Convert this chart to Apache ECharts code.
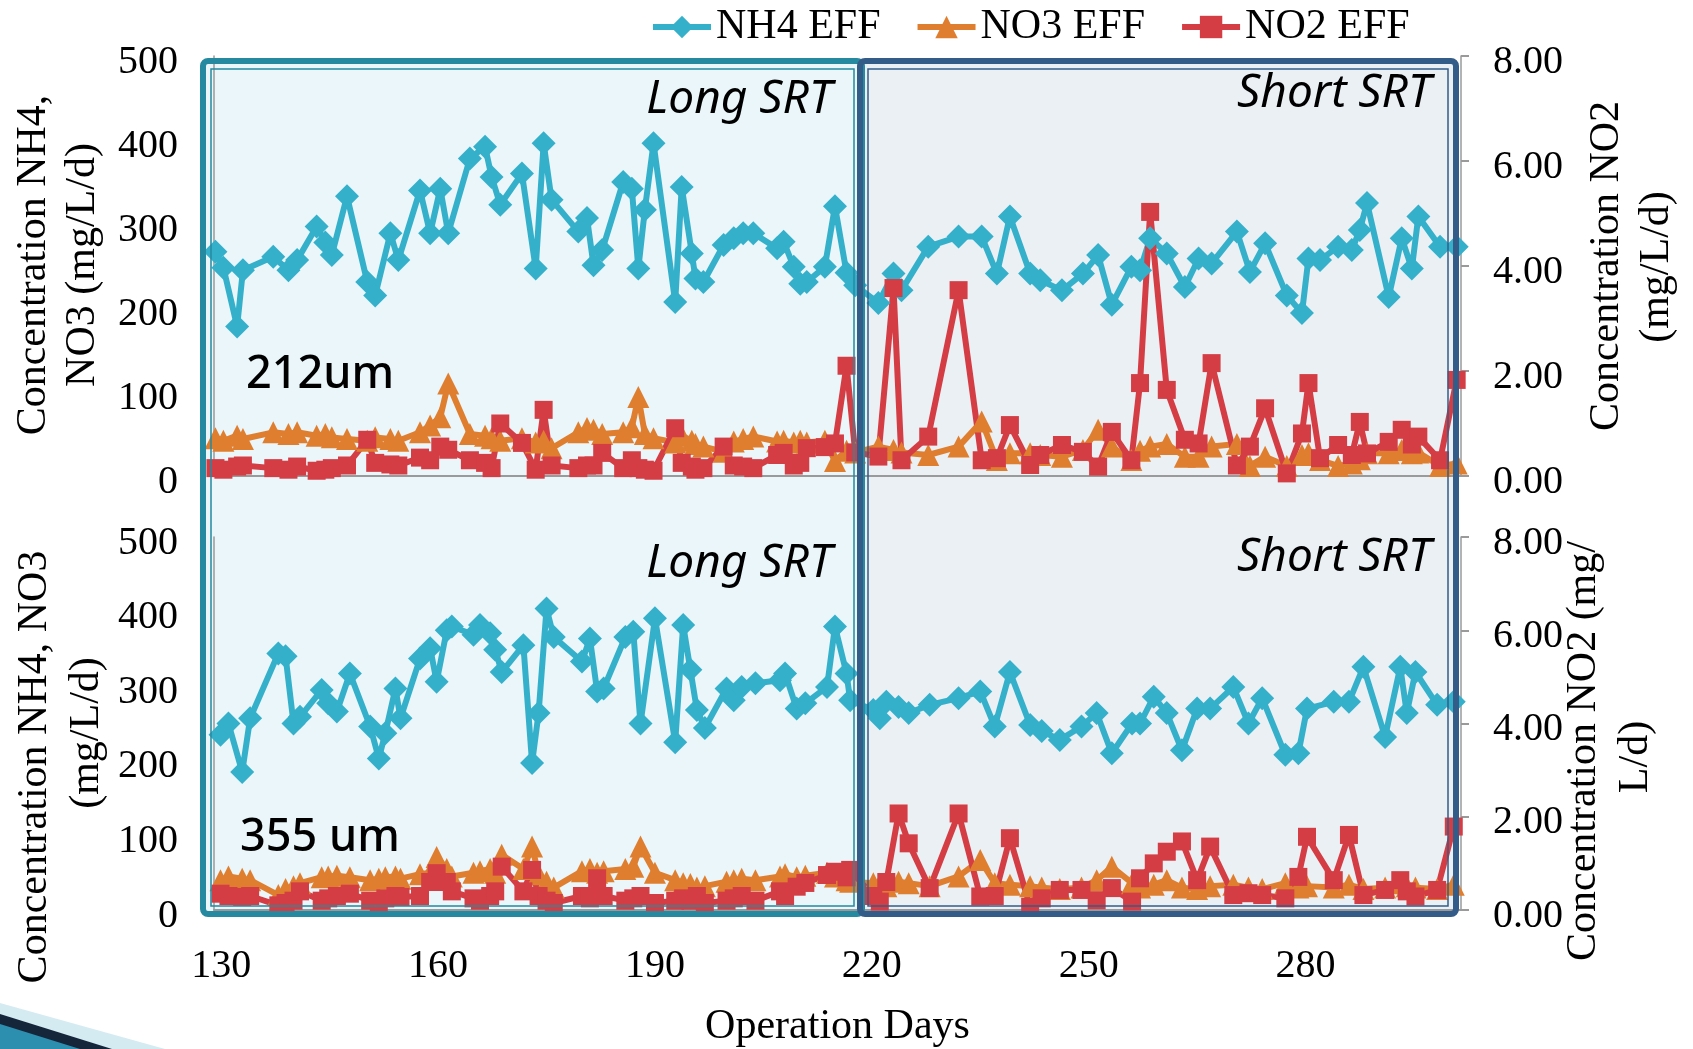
<!DOCTYPE html>
<html>
<head>
<meta charset="utf-8">
<title>NH4 / NO3 / NO2 effluent</title>
<script src="https://cdn.jsdelivr.net/npm/echarts@6/dist/echarts.min.js"></script>
<style>
  html, body { margin: 0; padding: 0; background: #fff; }
  #main { width: 1693px; height: 1049px; }
</style>
</head>
<body>
<div id="main"></div>
<script>
// operation days, 212um reactor (top panel)
var daysTop = [129.2,130.3,132.2,133,137.2,139.3,140.5,143.2,144.4,145.3,147.4,150.2,151.3,153.4,154.5,157.5,158.9,160.3,161.4,164.4,
  166.5,167.4,168.6,171.6,173.5,174.6,175.7,179.4,180.6,181.5,182.7,185.6,186.8,187.7,188.6,189.8,192.8,193.7,195.1,195.6,
  196.7,199.5,200.9,202.2,203.6,206.9,207.8,209.2,210.1,211,213.5,214.9,216.5,217.7,220.9,223,224.1,227.8,232,235.2,
  237.3,239.1,241.9,243.3,246.3,249.2,251.3,253.2,255.9,257.1,258.5,260.8,263.3,265.2,267,270.5,272.3,274.4,277.4,279.5,
  280.4,282,284.5,286.4,287.5,288.5,291.5,293.3,294.7,295.6,298.6,300.9];
var nh4Top = [267,248,178,245,261,245,257,297,278,263,333,231,215,289,257,340,289,342,289,378,
  392,356,323,360,247,396,329,291,307,251,269,350,342,247,317,396,207,344,265,235,
  231,275,283,289,289,271,279,249,229,231,249,321,242,227,206,241,221,273,285,285,
  241,309,241,233,221,241,263,204,249,245,283,265,225,259,253,291,243,277,215,194,
  259,257,273,269,293,325,213,283,247,309,273,273];
var no3Top = [45,42,48,44,52,50,52,48,50,46,44,42,46,44,42,52,60,70,110,50,
  48,45,42,45,40,42,33,52,57,55,50,52,58,94,50,45,40,48,42,38,
  35,29,41,44,47,41,42,40,42,40,42,18,30,28,35,31,28,25,35,65,
  19,27,27,25,23,31,55,35,19,30,35,38,23,23,35,38,12,23,12,25,
  27,19,12,15,20,27,27,31,27,28,12,15];
var no2Top = [0.15,0.12,0.18,0.2,0.15,0.12,0.18,0.1,0.12,0.15,0.2,0.69,0.25,0.22,0.2,0.35,0.3,0.56,0.5,0.3,
  0.25,0.15,1.0,0.63,0.12,1.26,0.2,0.15,0.2,0.2,0.44,0.15,0.3,0.15,0.12,0.1,0.91,0.25,0.18,0.12,
  0.15,0.56,0.2,0.18,0.15,0.4,0.44,0.2,0.25,0.53,0.55,0.62,2.1,0.45,0.37,3.58,0.3,0.75,3.54,0.3,
  0.34,0.97,0.21,0.4,0.59,0.46,0.18,0.84,0.3,1.77,5.03,1.64,0.69,0.62,2.15,0.2,0.56,1.29,0.05,0.81,
  1.77,0.34,0.59,0.4,1.03,0.43,0.65,0.88,0.6,0.75,0.3,1.83];

// operation days, 355 um reactor (bottom panel)
var daysBottom = [129.9,131,132.9,134,137.9,138.9,140,140.9,143.9,144.8,146,147.8,150.6,151.8,152.7,154.1,154.8,157.5,158.9,159.8,
  161.2,161.9,164.9,165.8,167.2,167.9,168.8,171.8,173,173.9,175,176,179.9,181,182,182.9,185.9,187,188,190,
  192.8,193.9,194.9,195.8,196.9,199.9,200.9,202,203.9,207.3,208,209.6,210.8,213.8,214.9,216.5,217,220.2,221.1,222,
  223.7,225.1,228,232,235,237,239.1,241.9,243.5,246,249,251.1,253.2,256,257.1,259,260.8,262.9,265,266.8,
  270,272.1,274,277.2,279,280.2,283.9,286,288,291,293.1,294,295.2,298.2,300.5];
var nh4Bottom = [235,250,185,257,344,340,250,259,295,277,266,317,246,203,237,297,257,337,351,306,
  375,380,369,382,371,349,319,355,197,264,404,366,333,364,293,297,366,373,250,391,
  225,382,322,268,244,297,281,299,304,308,317,270,277,299,380,317,281,268,257,279,
  272,264,275,284,293,246,319,248,240,228,246,264,210,250,250,286,264,214,270,270,
  299,250,284,208,210,270,279,279,326,232,326,264,319,275,279];
var no3Bottom = [40,45,42,40,20,28,32,36,44,45,46,44,40,42,44,45,42,48,50,71,
  55,45,50,52,55,50,74,55,85,48,38,30,52,55,50,52,55,58,85,50,
  40,36,35,30,32,38,40,42,40,45,48,44,46,50,45,40,38,36,34,32,
  38,36,32,45,67,36,34,32,30,28,30,40,58,36,30,34,40,30,28,32,
  34,30,28,36,30,32,30,34,28,30,36,32,30,28,34];
var no2Bottom = [0.35,0.3,0.28,0.3,0.1,0.15,0.2,0.4,0.2,0.25,0.3,0.35,0.2,0.15,0.25,0.3,0.28,0.3,0.6,0.79,
  0.6,0.4,0.25,0.2,0.3,0.4,0.93,0.4,0.86,0.3,0.2,0.15,0.3,0.25,0.68,0.3,0.2,0.25,0.3,0.15,
  0.2,0.25,0.2,0.3,0.15,0.2,0.25,0.3,0.2,0.4,0.3,0.5,0.58,0.75,0.82,0.7,0.86,0.3,0.18,0.6,
  2.07,1.43,0.47,2.07,0.29,0.3,1.54,0.07,0.25,0.43,0.43,0.21,0.47,0.18,0.68,1.0,1.25,1.47,0.64,1.36,
  0.32,0.36,0.32,0.25,0.71,1.57,0.64,1.61,0.32,0.43,0.64,0.4,0.29,0.43,1.79];

var dayTicks = [130, 160, 190, 220, 250, 280];
var names = ['NH4 EFF', 'NO3 EFF', 'NO2 EFF'];

var chart = echarts.init(document.getElementById('main'));

var serif = 'Liberation Serif';
var colors = { nh4: '#35b0cb', no3: '#e07e2f', no2: '#d53d45' };

function pairs(days, vals) {
  return days.map(function (d, i) { return [d, vals[i]]; });
}

function lineSeries(name, color, symbol, size, xi, yi, data) {
  return {
    name: name,
    type: 'line',
    xAxisIndex: xi,
    yAxisIndex: yi,
    symbol: symbol,
    symbolSize: size,
    data: data,
    itemStyle: { color: color },
    lineStyle: { color: color, width: 6 },
    emphasis: { disabled: true },
    animation: false
  };
}

// labels sit a few px below their tick, as in the original slide
function leftAxis(grid) {
  return {
    type: 'value', gridIndex: grid, position: 'left',
    min: 0, max: 500, interval: 100,
    axisLine: { show: true, lineStyle: { color: '#9a9a9a', width: 1.5 } },
    axisTick: { show: false },
    splitLine: { show: false },
    axisLabel: { fontFamily: serif, fontSize: 40, color: '#000', margin: 36, verticalAlign: 'top', lineHeight: 12 }
  };
}

function rightAxis(grid) {
  return {
    type: 'value', gridIndex: grid, position: 'right',
    min: 0, max: 8, interval: 2,
    axisLine: { show: true, lineStyle: { color: '#9a9a9a', width: 1.5 } },
    axisTick: { show: true, length: 8, lineStyle: { color: '#9a9a9a', width: 2 } },
    splitLine: { show: false },
    axisLabel: {
      fontFamily: serif, fontSize: 40, color: '#000', margin: 32, verticalAlign: 'top', lineHeight: 12,
      formatter: function (v) { return v.toFixed(2); }
    }
  };
}

function axisTitle(text, x, y) {
  return {
    type: 'text', x: x, y: y, rotation: Math.PI / 2, z: 20,
    style: { text: text, fontFamily: serif, fontSize: 42, fill: '#000', align: 'center', verticalAlign: 'middle' }
  };
}

function note(text, x, y, align, italic) {
  return {
    type: 'text', x: x, y: y, z: 20,
    style: {
      text: text, fontFamily: 'Noto Sans', fontSize: italic ? 46 : 45, fontStyle: italic ? 'italic' : 'normal',
      fontWeight: italic ? 'normal' : 500,
      fill: '#000', align: align, verticalAlign: 'middle'
    }
  };
}

// shaded SRT regions spanning both panels
function regionFill(x, w, fill) {
  return { type: 'rect', z: 0, shape: { x: x, y: 61, width: w, height: 853, r: 4 }, style: { fill: fill } };
}
function regionBorder(x, w, stroke) {
  return [
    { type: 'rect', z: 30, shape: { x: x, y: 61, width: w, height: 853, r: 5 },
      style: { fill: null, stroke: stroke, lineWidth: 6 } },
    { type: 'rect', z: 30, shape: { x: x + 8, y: 69, width: w - 16, height: 837 },
      style: { fill: null, stroke: stroke, lineWidth: 1.5 } }
  ];
}

var option = {
  backgroundColor: '#fff',
  animation: false,
  legend: {
    data: names,
    left: 650, top: 6, padding: 0,
    itemWidth: 58, itemHeight: 28, itemGap: 34,
    lineStyle: { width: 6 },
    textStyle: { fontFamily: serif, fontSize: 42, color: '#000' }
  },
  grid: [
    { left: 214, right: 232, top: 56, height: 420, outerBoundsMode: 'none' },
    { left: 214, right: 232, top: 537, height: 373, outerBoundsMode: 'none' }
  ],
  xAxis: [
    {
      type: 'value', gridIndex: 0, min: 129, max: 301.5,
      axisLine: { show: true, lineStyle: { color: '#9a9a9a', width: 2 } },
      axisTick: { show: false }, axisLabel: { show: false }, splitLine: { show: false }
    },
    {
      type: 'value', gridIndex: 1, min: 129, max: 301.5,
      name: 'Operation Days', nameLocation: 'middle', nameGap: 96,
      nameTextStyle: { fontFamily: serif, fontSize: 42, color: '#000' },
      axisLine: { show: true, lineStyle: { color: '#9a9a9a', width: 2 } },
      axisTick: { show: false }, splitLine: { show: false },
      axisLabel: { customValues: dayTicks, fontFamily: serif, fontSize: 40, color: '#000', margin: 36 }
    }
  ],
  yAxis: [leftAxis(0), rightAxis(0), leftAxis(1), rightAxis(1)],
  series: [
    lineSeries(names[0], colors.nh4, 'diamond', 24, 0, 0, pairs(daysTop, nh4Top)),
    lineSeries(names[1], colors.no3, 'triangle', 22, 0, 0, pairs(daysTop, no3Top)),
    lineSeries(names[2], colors.no2, 'rect', 18, 0, 1, pairs(daysTop, no2Top)),
    lineSeries(names[0], colors.nh4, 'diamond', 24, 1, 2, pairs(daysBottom, nh4Bottom)),
    lineSeries(names[1], colors.no3, 'triangle', 22, 1, 2, pairs(daysBottom, no3Bottom)),
    lineSeries(names[2], colors.no2, 'rect', 18, 1, 3, pairs(daysBottom, no2Bottom))
  ],
  graphic: [
    regionFill(203, 659, '#eaf6fa'),
    regionFill(860, 596, '#ebf0f5')
  ].concat(regionBorder(203, 659, '#2589a0'))
   .concat(regionBorder(860, 596, '#335c88'))
   .concat([
    note('Long SRT', 832, 100, 'right', true),
    note('Short SRT', 1431, 94, 'right', true),
    note('Long SRT', 832, 564, 'right', true),
    note('Short SRT', 1431, 558, 'right', true),
    note('212um', 246, 375, 'left', false),
    note('355 um', 240, 838, 'left', false),
    axisTitle('Concentration NH4,', 34, 265),
    axisTitle('NO3 (mg/L/d)', 83, 265),
    axisTitle('Concentration NO2', 1607, 266),
    axisTitle('(mg/L/d)', 1657, 267),
    axisTitle('Concentration NH4, NO3', 35, 767),
    axisTitle('(mg/L/d)', 87, 733),
    axisTitle('Concentration NO2 (mg/', 1584, 751),
    axisTitle('L/d)', 1636, 757),
    // slide corner swoosh
    { type: 'polygon', z: 5, shape: { points: [[0, 1003], [165, 1049], [0, 1049]] }, style: { fill: '#d4ebf2' } },
    { type: 'polygon', z: 6, shape: { points: [[0, 1014], [112, 1049], [0, 1049]] }, style: { fill: '#15253a' } },
    { type: 'polygon', z: 7, shape: { points: [[0, 1024], [80, 1049], [0, 1049]] }, style: { fill: '#2d8fb0' } }
  ])
};

chart.setOption(option);
</script>
</body>
</html>
